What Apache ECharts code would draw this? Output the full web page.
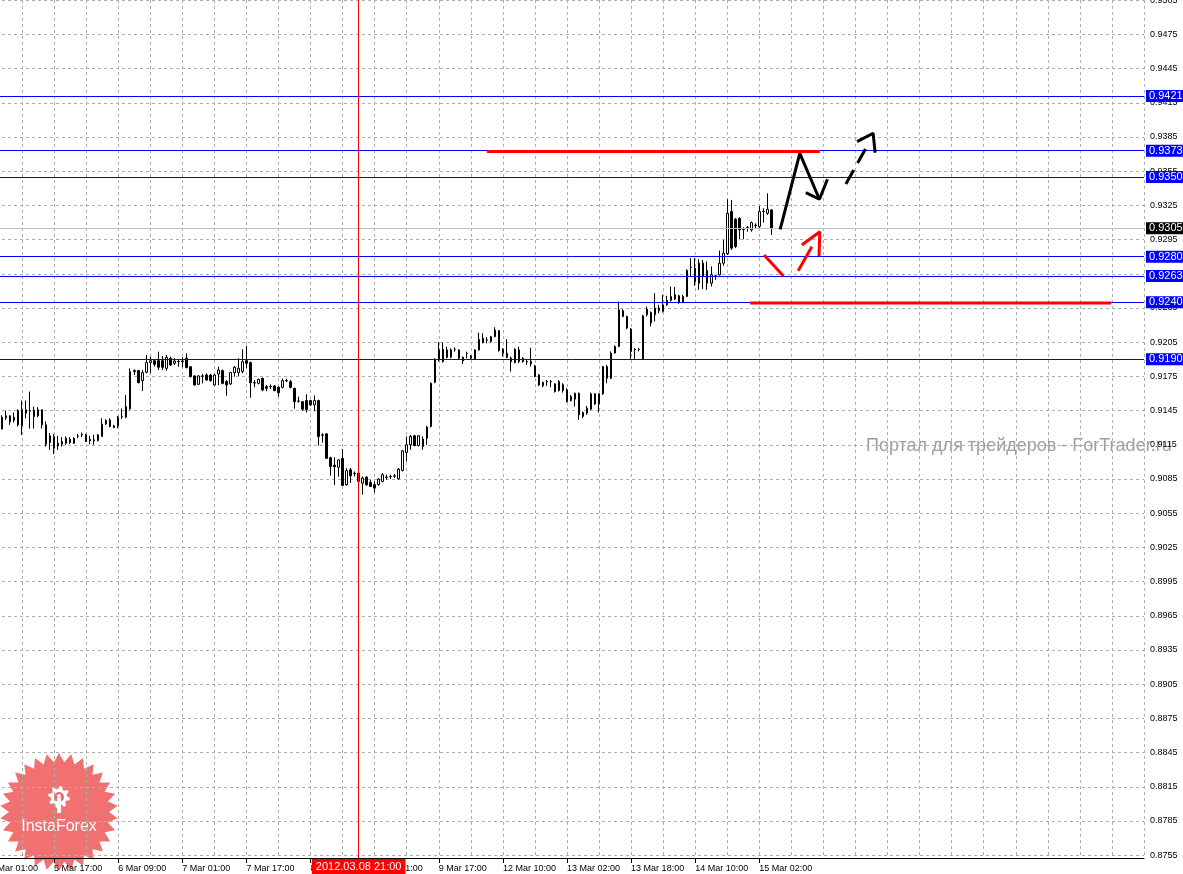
<!DOCTYPE html>
<html><head><meta charset="utf-8">
<script src="https://cdn.jsdelivr.net/npm/echarts@6/dist/echarts.min.js"></script>
<style>html,body{margin:0;padding:0;background:#fff;}#c{width:1183px;height:874px;}</style>
</head><body><div id="c"></div>
<script>
// ---- hourly candles, 5 Mar 2012 04:00 .. 15 Mar 2012 05:00 ----
const openP = [
0.91287,0.91386,0.91404,0.91363,0.91450,0.91316,0.91457,0.91450,0.91450,0.91404,
0.91457,0.91325,0.91170,0.91222,0.91141,0.91155,0.91164,0.91199,0.91164,0.91225,
0.91237,0.91237,0.91196,0.91184,0.91187,0.91222,0.91333,0.91368,0.91316,0.91316,
0.91395,0.91392,0.91465,0.91792,0.91801,0.91713,0.91786,0.91871,0.91888,0.91888,
0.91888,0.91821,0.91909,0.91865,0.91879,0.91879,0.91909,0.91835,0.91754,0.91681,
0.91751,0.91762,0.91762,0.91675,0.91771,0.91800,0.91704,0.91684,0.91783,0.91783,
0.91792,0.91888,0.91871,0.91692,0.91689,0.91733,0.91660,0.91660,0.91666,0.91654,
0.91654,0.91710,0.91704,0.91645,0.91531,0.91528,0.91538,0.91538,0.91500,0.91538,
0.91234,0.91246,0.91037,0.90972,0.90952,0.91031,0.90800,0.90931,0.90896,0.90902,
0.90814,0.90867,0.90820,0.90800,0.90800,0.90829,0.90864,0.90870,0.90875,0.90852,
0.90925,0.91083,0.91150,0.91229,0.91144,0.91200,0.91208,0.91310,0.91699,0.91894,
0.91988,0.91982,0.91918,0.91985,0.91982,0.91918,0.91950,0.91930,0.91900,0.91982,
0.92084,0.92067,0.92055,0.92099,0.92151,0.91988,0.91953,0.91909,0.91871,0.91982,
0.91909,0.91877,0.91880,0.91842,0.91763,0.91667,0.91702,0.91705,0.91684,0.91626,
0.91676,0.91632,0.91538,0.91550,0.91602,0.91398,0.91427,0.91462,0.91597,0.91509,
0.91597,0.91836,0.91734,0.91955,0.92013,0.92325,0.92276,0.92165,0.91984,0.91984,
0.91902,0.92290,0.92311,0.92290,0.92325,0.92320,0.92378,0.92416,0.92466,0.92457,
0.92398,0.92451,0.92705,0.92699,0.92743,0.92743,0.92679,0.92568,0.92629,0.92641,
0.92743,0.92825,0.93196,0.93129,0.93137,0.93038,0.93050,0.93035,0.93073,0.93064,
0.93196,0.93181,0.93210];
const closeP = [
0.91392,0.91404,0.91351,0.91392,0.91325,0.91457,0.91427,0.91445,0.91398,0.91457,
0.91325,0.91155,0.91228,0.91120,0.91164,0.91179,0.91208,0.91170,0.91208,0.91228,
0.91240,0.91179,0.91184,0.91193,0.91237,0.91330,0.91363,0.91310,0.91301,0.91392,
0.91398,0.91485,0.91792,0.91801,0.91695,0.91783,0.91871,0.91888,0.91856,0.91830,
0.91830,0.91917,0.91850,0.91885,0.91882,0.91885,0.91827,0.91748,0.91675,0.91754,
0.91754,0.91718,0.91713,0.91762,0.91806,0.91689,0.91675,0.91783,0.91830,0.91821,
0.91879,0.91865,0.91695,0.91695,0.91724,0.91631,0.91645,0.91663,0.91625,0.91607,
0.91713,0.91713,0.91654,0.91528,0.91534,0.91462,0.91457,0.91500,0.91538,0.91222,
0.91237,0.91031,0.90958,0.90958,0.91017,0.90794,0.90923,0.90878,0.90899,0.90829,
0.90858,0.90799,0.90785,0.90770,0.90849,0.90887,0.90867,0.90872,0.90878,0.90937,
0.91097,0.91150,0.91223,0.91144,0.91229,0.91135,0.91305,0.91690,0.91900,0.91982,
0.91880,0.91918,0.91982,0.91988,0.91909,0.91886,0.91953,0.91909,0.91982,0.92075,
0.92046,0.92070,0.92099,0.92157,0.91976,0.91953,0.91918,0.91880,0.91988,0.91880,
0.91880,0.91880,0.91860,0.91748,0.91675,0.91696,0.91705,0.91702,0.91617,0.91705,
0.91626,0.91530,0.91573,0.91602,0.91413,0.91433,0.91471,0.91597,0.91509,0.91597,
0.91836,0.91734,0.91953,0.92013,0.92334,0.92276,0.92174,0.91969,0.91987,0.91987,
0.92282,0.92340,0.92218,0.92349,0.92349,0.92378,0.92416,0.92451,0.92428,0.92398,
0.92451,0.92679,0.92708,0.92582,0.92568,0.92626,0.92568,0.92641,0.92632,0.92743,
0.92831,0.93181,0.92875,0.92889,0.93035,0.93041,0.93055,0.93099,0.93076,0.93196,
0.93199,0.93216,0.93050];
const lowP = [
0.91287,0.91368,0.91325,0.91345,0.91310,0.91237,0.91383,0.91292,0.91292,0.91392,
0.91292,0.91134,0.91105,0.91068,0.91105,0.91134,0.91150,0.91158,0.91158,0.91208,
0.91217,0.91173,0.91155,0.91150,0.91179,0.91222,0.91325,0.91304,0.91295,0.91295,
0.91377,0.91383,0.91457,0.91762,0.91689,0.91622,0.91777,0.91777,0.91835,0.91806,
0.91806,0.91800,0.91841,0.91850,0.91835,0.91830,0.91821,0.91740,0.91670,0.91675,
0.91689,0.91713,0.91704,0.91670,0.91675,0.91681,0.91581,0.91675,0.91748,0.91754,
0.91777,0.91821,0.91563,0.91654,0.91680,0.91620,0.91620,0.91640,0.91620,0.91572,
0.91645,0.91700,0.91645,0.91467,0.91520,0.91447,0.91433,0.91490,0.91444,0.91143,
0.91170,0.91025,0.90879,0.90797,0.90870,0.90790,0.90790,0.90814,0.90872,0.90820,
0.90712,0.90791,0.90779,0.90732,0.90791,0.90820,0.90843,0.90849,0.90858,0.90843,
0.90916,0.91004,0.91106,0.91135,0.91135,0.91106,0.91150,0.91302,0.91690,0.91880,
0.91871,0.91909,0.91909,0.91967,0.91900,0.91859,0.91909,0.91900,0.91894,0.91976,
0.92040,0.92040,0.92046,0.92093,0.91967,0.91924,0.91909,0.91792,0.91865,0.91865,
0.91871,0.91851,0.91836,0.91742,0.91667,0.91655,0.91667,0.91655,0.91608,0.91617,
0.91608,0.91521,0.91530,0.91486,0.91369,0.91383,0.91413,0.91456,0.91500,0.91433,
0.91588,0.91690,0.91725,0.91950,0.92007,0.92270,0.92165,0.91896,0.91896,0.91969,
0.91896,0.92276,0.92188,0.92232,0.92305,0.92311,0.92369,0.92407,0.92422,0.92387,
0.92393,0.92445,0.92626,0.92544,0.92509,0.92515,0.92509,0.92539,0.92597,0.92635,
0.92720,0.92816,0.92860,0.92875,0.92953,0.92953,0.93020,0.93020,0.93050,0.93050,
0.93099,0.93166,0.92991];
const highP = [
0.91409,0.91450,0.91409,0.91433,0.91462,0.91538,0.91538,0.91617,0.91485,0.91480,
0.91460,0.91354,0.91252,0.91246,0.91228,0.91217,0.91223,0.91217,0.91217,0.91246,
0.91257,0.91246,0.91228,0.91237,0.91246,0.91383,0.91374,0.91383,0.91325,0.91404,
0.91468,0.91587,0.91821,0.91812,0.91806,0.91806,0.91938,0.91923,0.91894,0.91967,
0.91929,0.91938,0.91923,0.91909,0.91900,0.91917,0.91952,0.91840,0.91760,0.91760,
0.91771,0.91777,0.91771,0.91771,0.91835,0.91812,0.91718,0.91790,0.91841,0.91909,
0.91987,0.92017,0.91879,0.91718,0.91730,0.91740,0.91675,0.91680,0.91675,0.91665,
0.91730,0.91730,0.91720,0.91650,0.91572,0.91535,0.91593,0.91545,0.91584,0.91545,
0.91251,0.91250,0.91046,0.91040,0.91022,0.91113,0.90944,0.90946,0.90916,0.90916,
0.90872,0.90872,0.90843,0.90829,0.90858,0.90902,0.90887,0.90887,0.90896,0.90946,
0.91106,0.91223,0.91237,0.91237,0.91237,0.91223,0.91316,0.91696,0.91909,0.92049,
0.92049,0.92011,0.91997,0.92005,0.91988,0.91924,0.91967,0.91938,0.91988,0.92134,
0.92128,0.92093,0.92105,0.92181,0.92157,0.91997,0.92075,0.91924,0.91997,0.92011,
0.91918,0.91900,0.92002,0.91851,0.91772,0.91705,0.91719,0.91719,0.91690,0.91719,
0.91690,0.91646,0.91588,0.91608,0.91608,0.91442,0.91491,0.91608,0.91602,0.91602,
0.91842,0.91851,0.91969,0.92022,0.92407,0.92340,0.92282,0.92174,0.91998,0.91998,
0.92290,0.92363,0.92320,0.92480,0.92378,0.92466,0.92457,0.92539,0.92533,0.92466,
0.92466,0.92690,0.92787,0.92787,0.92778,0.92772,0.92758,0.92714,0.92641,0.92854,
0.92947,0.93304,0.93298,0.93140,0.93146,0.93058,0.93070,0.93108,0.93093,0.93245,
0.93225,0.93356,0.93216];

// price-axis tick labels
const yTickLabels = ['0.8755','0.8785','0.8815','0.8845','0.8875','0.8905','0.8935','0.8965',
 '0.8995','0.9025','0.9055','0.9085','0.9115','0.9145','0.9175','0.9205','0.9235','0.9265',
 '0.9295','0.9325','0.9355','0.9385','0.9415','0.9445','0.9475','0.9505'];
// horizontal support / resistance levels
const levelLines = [0.9421, 0.9373, 0.9350, 0.9280, 0.9263, 0.9240, 0.9190];
const bidPrice = 0.9305;
const crossTime = '8 Mar 21:00';
const crossLabel = '2012.03.08 21:00';
// hand-drawn forecast strokes, in [bar slot, price]
const redTopLine    = [[124.0, 0.93722], [207.1, 0.93722]];
const redBottomLine = [[189.7, 0.92394], [279.8, 0.92394]];
const blackPath     = [[197.2, 0.93040], [202.1, 0.93707], [207.0, 0.93304]];
const blackHead     = [[203.6, 0.93362], [207.0, 0.93304], [209.0, 0.93479]];
const blackDash     = [[213.6, 0.93438], [218.6, 0.93751]];
const blackDashHead = [[216.4, 0.93809], [220.4, 0.93883], [220.9, 0.93712]];
const redDown       = [[193.2, 0.92815], [198.0, 0.92631]];
const redUp         = [[201.7, 0.92677], [205.1, 0.92888]];
const redUpHead     = [[202.6, 0.92903], [207.1, 0.93019], [206.9, 0.92806]];

const SLOTS = 289;          // bar slots on the time axis (incl. empty future area)
const firstBar = 3;         // slot of 5 Mar 04:00
function fmt(d){return d.getUTCDate()+' Mar '+String(d.getUTCHours()).padStart(2,'0')+':00';}
const cats = [];
let t = Date.UTC(2012,2,5,1);
while (cats.length < SLOTS) {
  const d = new Date(t); cats.push(fmt(d));
  if (d.getUTCDate()===9 && d.getUTCHours()===22) t = Date.UTC(2012,2,12,0); else t += 3600000;
}
const candleData = openP.map((o,k)=>[cats[firstBar+k], o, closeP[k], lowP[k], highP[k]]);
const lastLabelSlot = 192;

const FONT = 'Liberation Sans';
const boxLabel = (txt,bg)=>({show:true, position:'end', distance:2, formatter:txt, color:'#fff',
  backgroundColor:bg, fontSize:11, fontFamily:FONT, lineHeight:12, padding:[0,3,0,3]});
const markData = levelLines.map(v=>({yAxis:v, lineStyle:{color:'#0000ff',width:1,type:'solid',opacity:1},
  label:boxLabel(v.toFixed(4),'#0000ff')}));
markData.push({yAxis:bidPrice, lineStyle:{color:'#c0c0c0',width:1,type:'solid'}, label:boxLabel(bidPrice.toFixed(4),'#000')});
markData.push({xAxis:crossTime, lineStyle:{color:'#ff0000',width:1,type:'solid'},
  label:{show:true, position:'start', distance:1, formatter:crossLabel, color:'#fff', backgroundColor:'#ff0000',
    fontSize:11, fontFamily:FONT, lineHeight:12, padding:[2,4,2,4]}});

function stroke(data,color,dash){
  return {type:'line', xAxisIndex:1, yAxisIndex:0, data, symbol:'none', silent:true, z:40,
    lineStyle:{color, width:3, type: dash?[16,8]:'solid'}, animation:false};
}

// starburst logo points
const star=[]; const SC=[59,812], NP=30;
for(let k=0;k<NP*2;k++){const r=k%2?50:59; const a=Math.PI*k/NP - Math.PI/2; star.push([SC[0]+r*Math.cos(a), SC[1]+r*Math.sin(a)]);}
const gear=[]; for(let k=0;k<32;k++){const r=(Math.floor(k/2)%2)?8:11; const a=Math.PI*2*(k+0.5)/32; gear.push([59+r*Math.cos(a),797+r*Math.sin(a)]);}

const chart = echarts.init(document.getElementById('c'), null, {renderer:'canvas'});
chart.setOption({
  animation:false,
  backgroundColor:'#ffffff',
  grid:{left:-10, right:39, top:0, bottom:16, containLabel:false, outerBoundsMode:'none'},
  xAxis:[{
    type:'category', data:cats, boundaryGap:false, z:10,
    axisLine:{show:true, lineStyle:{color:'#000', width:1}},
    axisTick:{show:true, length:5, interval:(i)=>i%16===0 && i<=lastLabelSlot, lineStyle:{color:'#000'}},
    axisLabel:{show:true, interval:(i)=>i%16===0 && i<=lastLabelSlot, align:'left', margin:6,
      color:'#000', fontSize:9, fontFamily:FONT},
    splitLine:{show:true, interval:(i)=>i%8===0, lineStyle:{color:'#a9b1a9', width:1, type:[3,3]}}
  },{
    type:'value', min:0, max:SLOTS-1, show:false
  }],
  yAxis:[{
    type:'value', position:'right', min:0.87525, max:0.95052, z:10,
    axisLine:{show:true, lineStyle:{color:'#000', width:1}},
    axisTick:{show:true, length:3, customValues:yTickLabels.map(Number), lineStyle:{color:'#000'}},
    axisLabel:{show:true, customValues:yTickLabels.map(Number), formatter:(v)=>Number(v).toFixed(4),
      margin:6, color:'#000', fontSize:9, fontFamily:FONT},
    splitLine:{show:true, lineStyle:{color:'#a9b1a9', width:1, type:[3,3]}}
  }],
  series:[{
    type:'candlestick', data:candleData, encode:{x:0, y:[1,2,3,4]}, barWidth:2, z:20,
    itemStyle:{color:'#ffffff', color0:'#000000', borderColor:'#000000', borderColor0:'#000000', borderWidth:1},
    markLine:{symbol:'none', silent:true, animation:false, precision:5, z:30,
      lineStyle:{color:'#0000ff', width:1, type:'solid', opacity:1}, data:markData}
  },
  stroke(redTopLine,'#ff0000'), stroke(redBottomLine,'#ff0000'),
  stroke(blackPath,'#000'), stroke(blackHead,'#000'),
  stroke(blackDash,'#000',true), stroke(blackDashHead,'#000'),
  stroke(redDown,'#ff0000'), stroke(redUp,'#ff0000'), stroke(redUpHead,'#ff0000')
  ],
  graphic:[
    {type:'text', left:866, top:437, z:6, silent:true,
      style:{text:'Портал для трейдеров - ForTrader.ru', fill:'#a99a9a', font:'18px "Liberation Sans"'}},
    {type:'polygon', z:5, silent:true, shape:{points:star}, style:{fill:'rgba(238,88,88,0.85)'}},
    {type:'polygon', z:6, silent:true, shape:{points:gear}, style:{fill:'#fff'}},
    {type:'circle', z:7, silent:true, shape:{cx:59, cy:797, r:5}, style:{fill:'#ef6a6a'}},
    {type:'circle', z:8, silent:true, shape:{cx:59, cy:796, r:2}, style:{fill:'#fff'}},
    {type:'rect', z:8, silent:true, shape:{x:57, y:798, width:4, height:15}, style:{fill:'#fff'}},
    {type:'text', z:8, silent:true, x:59, y:827,
      style:{text:'InstaForex', fill:'#fff', font:'16px "Liberation Sans"', align:'center', verticalAlign:'middle'}}
  ]
});
</script></body></html>
